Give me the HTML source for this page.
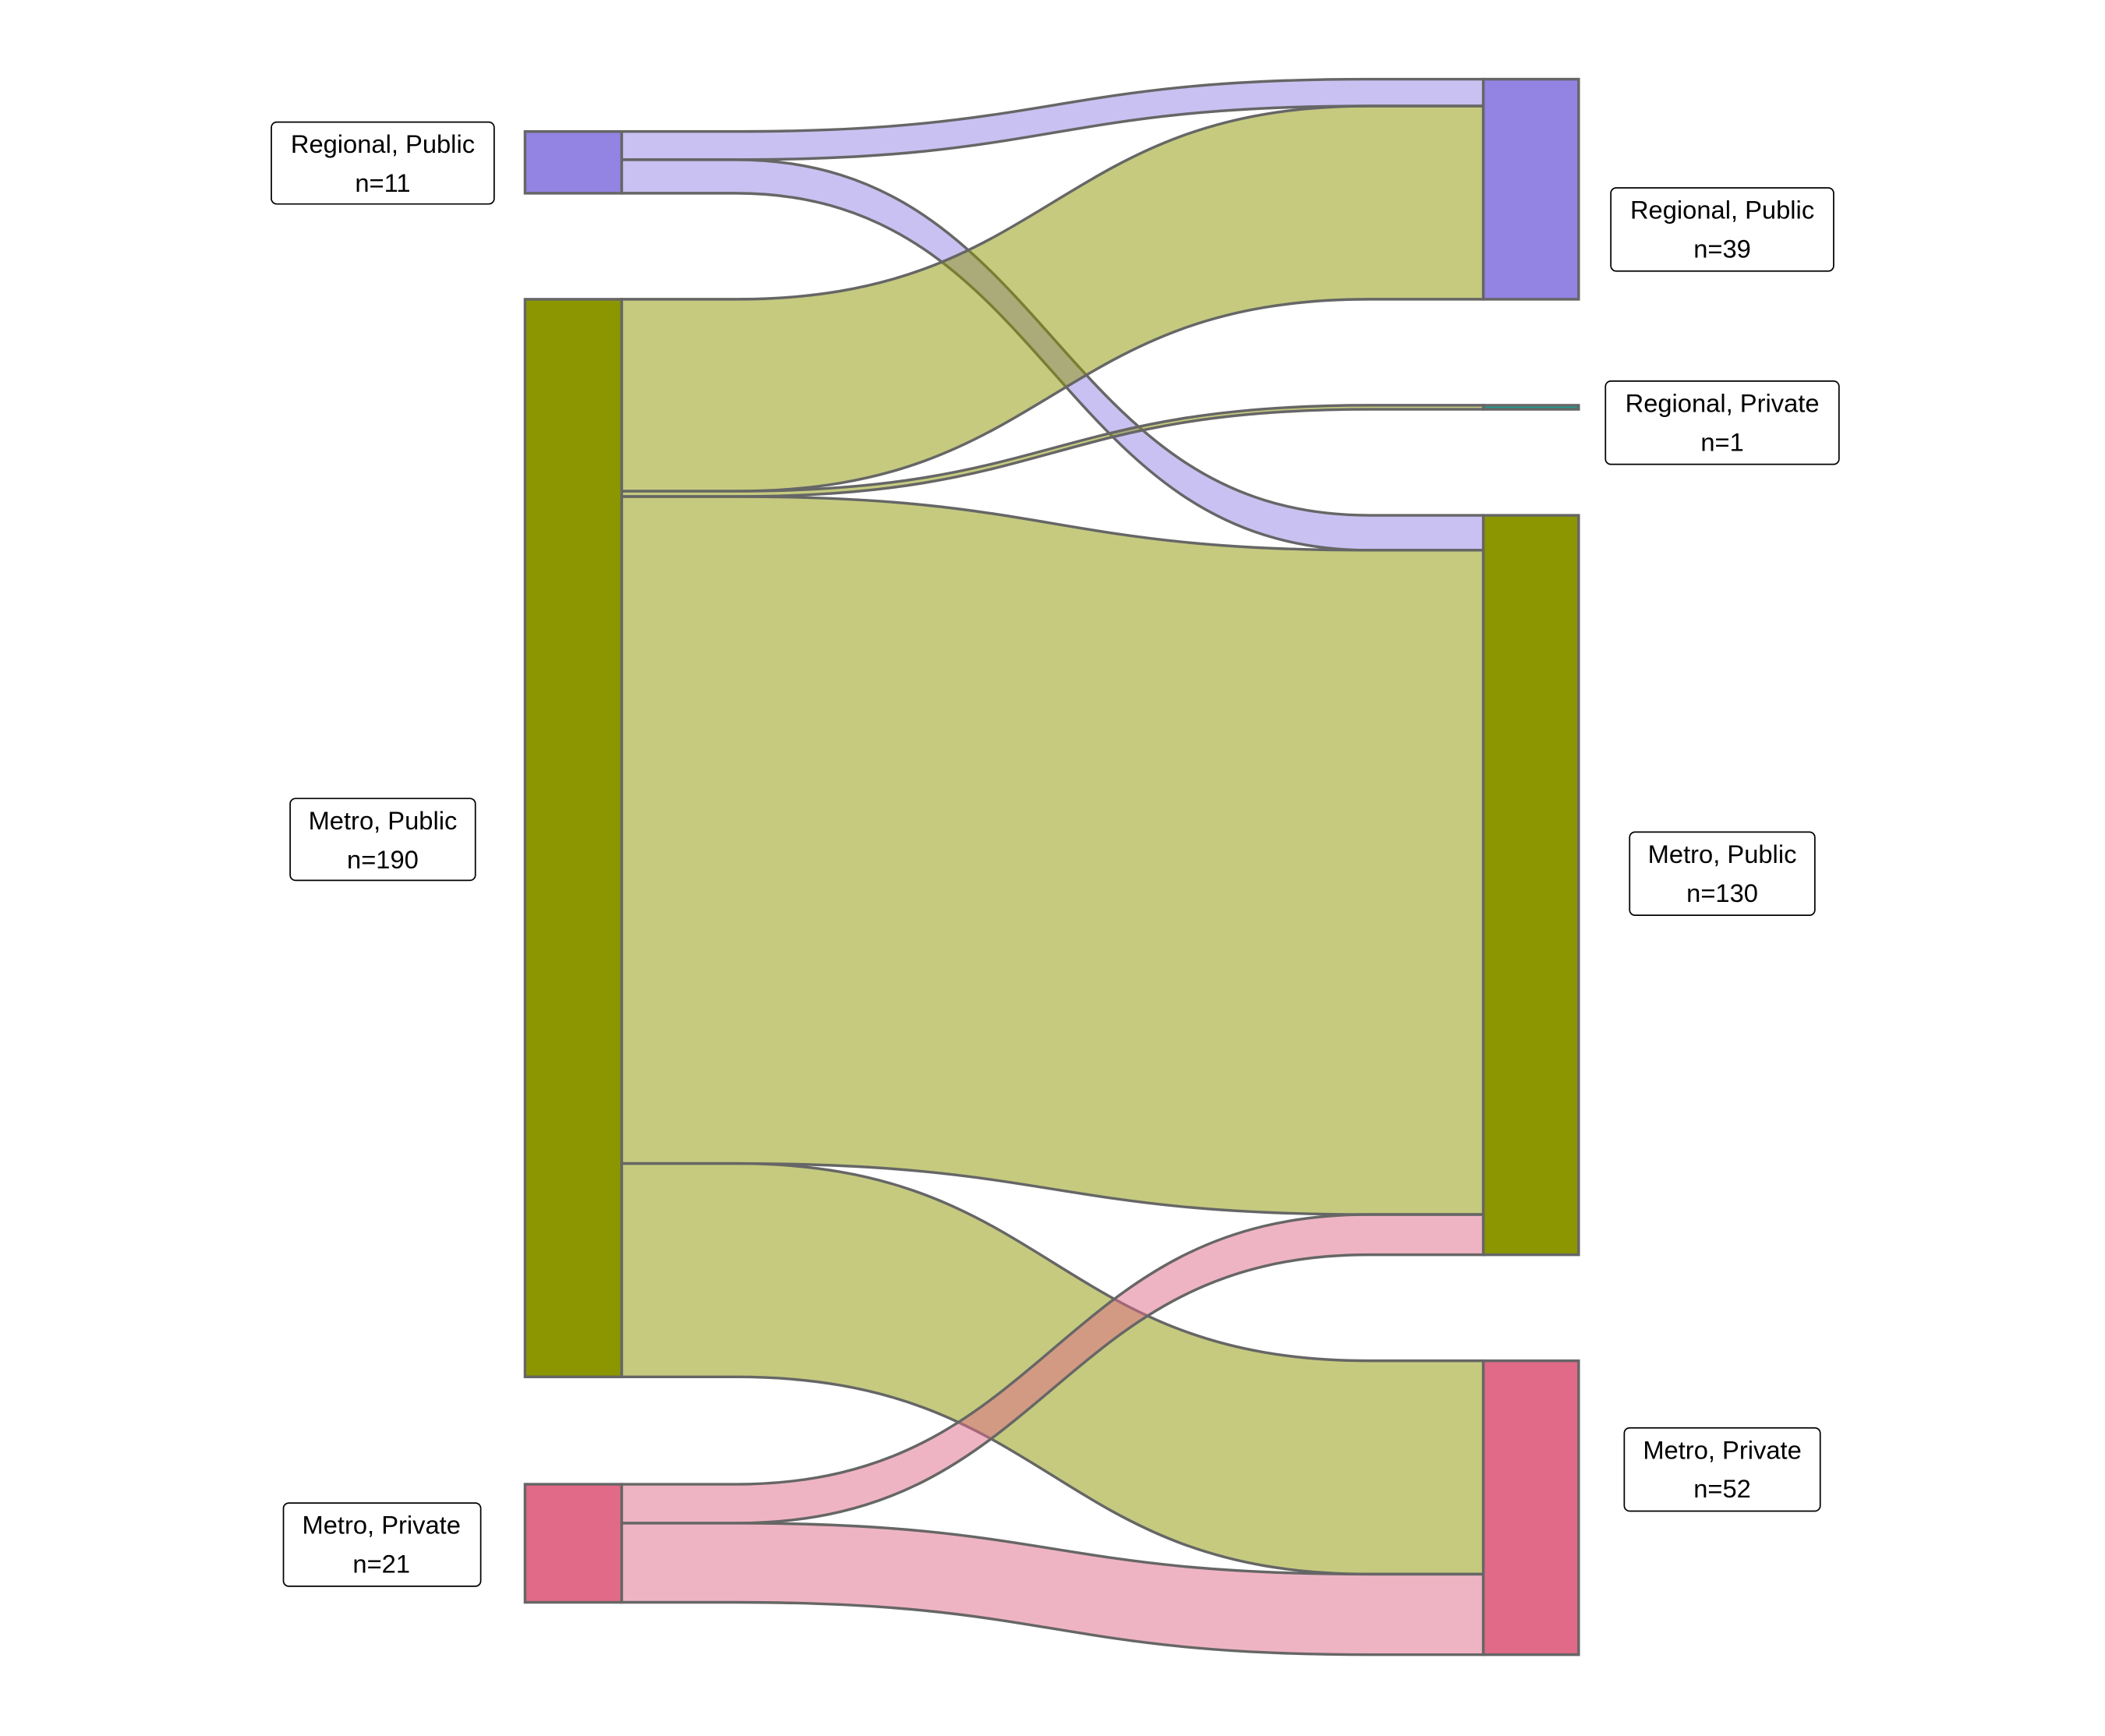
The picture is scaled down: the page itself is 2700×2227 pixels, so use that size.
<!DOCTYPE html>
<html><head><meta charset="utf-8"><style>html,body{margin:0;padding:0;background:#fff}svg{display:block}</style></head><body>
<svg width="2700" height="2227" viewBox="0 0 1568 1293.6" xmlns="http://www.w3.org/2000/svg" font-family="Liberation Sans, sans-serif">
<g stroke="#666" stroke-width="2" fill-opacity="0.5">
<path d="M463,98 L548,98 C784,98 784,59 1020,59 L1105,59 L1105,79 L1020,79 C784,79 784,119 548,119 L463,119 Z" fill="#9383e3"/>
<path d="M463,119 L548,119 C784,119 784,384 1020,384 L1105,384 L1105,410 L1020,410 C784,410 784,144 548,144 L463,144 Z" fill="#9383e3"/>
<path d="M463,223 L548,223 C784,223 784,79 1020,79 L1105,79 L1105,223 L1020,223 C784,223 784,366 548,366 L463,366 Z" fill="#8c9600"/>
<path d="M463,366 L548,366 C784,366 784,302 1020,302 L1105,302 L1105,305 L1020,305 C784,305 784,370 548,370 L463,370 Z" fill="#8c9600"/>
<path d="M463,370 L548,370 C784,370 784,410 1020,410 L1105,410 L1105,905 L1020,905 C784,905 784,867 548,867 L463,867 Z" fill="#8c9600"/>
<path d="M463,867 L548,867 C784,867 784,1014 1020,1014 L1105,1014 L1105,1173 L1020,1173 C784,1173 784,1026 548,1026 L463,1026 Z" fill="#8c9600"/>
<path d="M463,1106 L548,1106 C784,1106 784,905 1020,905 L1105,905 L1105,935 L1020,935 C784,935 784,1135 548,1135 L463,1135 Z" fill="#e06a87"/>
<path d="M463,1135 L548,1135 C784,1135 784,1173 1020,1173 L1105,1173 L1105,1233 L1020,1233 C784,1233 784,1194 548,1194 L463,1194 Z" fill="#e06a87"/>
</g>
<g stroke="#666" stroke-width="2">
<rect x="391" y="98" width="72" height="46" fill="#9383e3"/>
<rect x="391" y="223" width="72" height="803" fill="#8c9600"/>
<rect x="391" y="1106" width="72" height="88" fill="#e06a87"/>
<rect x="1105" y="59" width="71" height="164" fill="#9383e3"/>
<rect x="1105" y="302" width="71" height="3" fill="#1a9e8f"/>
<rect x="1105" y="384" width="71" height="551" fill="#8c9600"/>
<rect x="1105" y="1014" width="71" height="219" fill="#e06a87"/>
</g>
<g fill="#fff" stroke="#000" stroke-width="1">
<rect x="202" y="91" width="166" height="61" rx="4"/>
<rect x="216" y="595" width="138" height="61" rx="4"/>
<rect x="211" y="1120" width="147" height="62" rx="4"/>
<rect x="1200" y="140" width="166" height="62" rx="4"/>
<rect x="1196" y="284" width="174" height="62" rx="4"/>
<rect x="1214" y="620" width="138" height="62" rx="4"/>
<rect x="1210" y="1064" width="146" height="62" rx="4"/>
</g>
<g font-size="19" text-anchor="middle" fill="#000">
<text x="285" y="114">Regional, Public</text><text x="285" y="143">n=11</text>
<text x="285" y="618">Metro, Public</text><text x="285" y="647">n=190</text>
<text x="284" y="1143">Metro, Private</text><text x="284" y="1172">n=21</text>
<text x="1283" y="163">Regional, Public</text><text x="1283" y="192">n=39</text>
<text x="1283" y="307">Regional, Private</text><text x="1283" y="336">n=1</text>
<text x="1283" y="643">Metro, Public</text><text x="1283" y="672">n=130</text>
<text x="1283" y="1087">Metro, Private</text><text x="1283" y="1116">n=52</text>
</g>
</svg>
</body></html>
